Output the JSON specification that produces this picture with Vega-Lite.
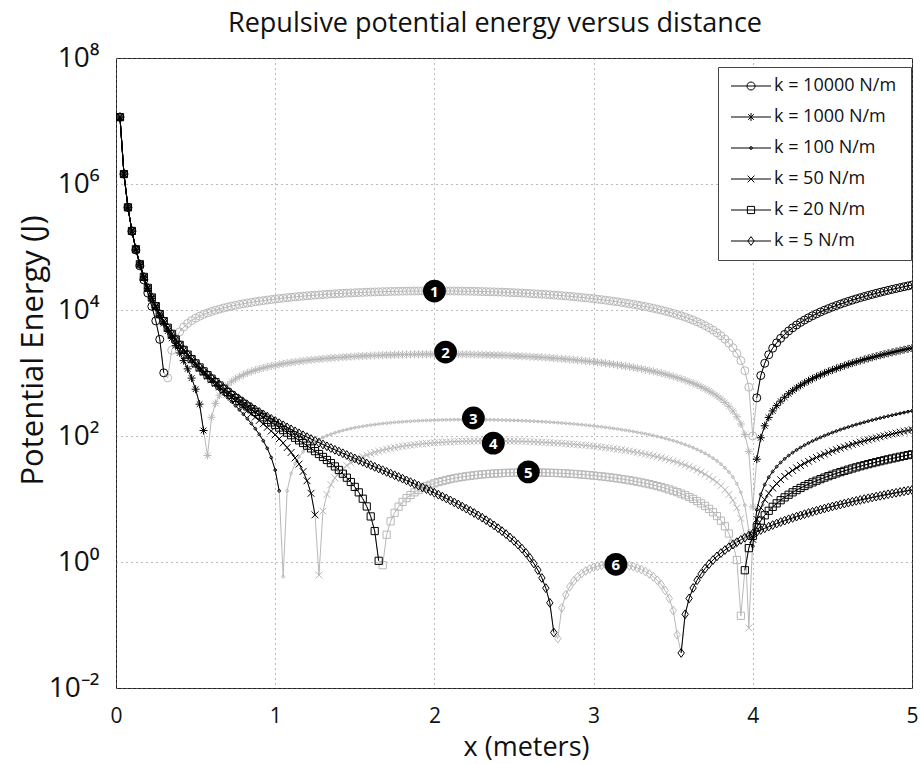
{
"$schema":"https://vega.github.io/schema/vega-lite/v6.json",
"width":796,"height":630,
"autosize":{"type":"none"},
"padding":{"left":116,"top":58,"right":10,"bottom":76},
"config":{"font":"Open Sans","view":{"stroke":"#222","strokeWidth":1}},
"title":{"text":"Repulsive potential energy versus distance","fontSize":27,"fontWeight":"normal","color":"#111","anchor":"middle","frame":"group","dx":-19,"dy":30,"offset":15,"baseline":"alphabetic"},
"data":{"values":[
{"k":10000,"x":0.025,"y":11506000,"p":"L"},{"k":10000,"x":0.05,"y":1437300,"p":"L"},{"k":10000,"x":0.075,"y":424620,"p":"L"},{"k":10000,"x":0.1,"y":177750,"p":"L"},{"k":10000,"x":0.125,"y":89533,"p":"L"},{"k":10000,"x":0.15,"y":50283,"p":"L"},{"k":10000,"x":0.175,"y":30100,"p":"L"},{"k":10000,"x":0.2,"y":18572,"p":"L"},{"k":10000,"x":0.225,"y":11435,"p":"L"},{"k":10000,"x":0.25,"y":6717,"p":"L"},{"k":10000,"x":0.275,"y":3421,"p":"L"},{"k":10000,"x":0.3,"y":1006,"p":"L"},
{"k":10000,"x":0.325,"y":837,"p":"H"},{"k":10000,"x":0.35,"y":2297,"p":"H"},{"k":10000,"x":0.375,"y":3490,"p":"H"},{"k":10000,"x":0.4,"y":4494,"p":"H"},{"k":10000,"x":0.425,"y":5358,"p":"H"},{"k":10000,"x":0.45,"y":6117,"p":"H"},{"k":10000,"x":0.475,"y":6797,"p":"H"},{"k":10000,"x":0.5,"y":7415,"p":"H"},{"k":10000,"x":0.525,"y":7982,"p":"H"},{"k":10000,"x":0.55,"y":8510,"p":"H"},{"k":10000,"x":0.575,"y":9004,"p":"H"},{"k":10000,"x":0.6,"y":9471,"p":"H"},{"k":10000,"x":0.625,"y":9913,"p":"H"},{"k":10000,"x":0.65,"y":10336,"p":"H"},{"k":10000,"x":0.675,"y":10740,"p":"H"},{"k":10000,"x":0.7,"y":11129,"p":"H"},{"k":10000,"x":0.725,"y":11503,"p":"H"},{"k":10000,"x":0.75,"y":11864,"p":"H"},{"k":10000,"x":0.775,"y":12214,"p":"H"},{"k":10000,"x":0.8,"y":12552,"p":"H"},{"k":10000,"x":0.825,"y":12880,"p":"H"},{"k":10000,"x":0.85,"y":13198,"p":"H"},{"k":10000,"x":0.875,"y":13507,"p":"H"},{"k":10000,"x":0.9,"y":13806,"p":"H"},{"k":10000,"x":0.925,"y":14098,"p":"H"},{"k":10000,"x":0.95,"y":14381,"p":"H"},{"k":10000,"x":0.975,"y":14656,"p":"H"},{"k":10000,"x":1,"y":14923,"p":"H"},{"k":10000,"x":1.025,"y":15183,"p":"H"},{"k":10000,"x":1.05,"y":15435,"p":"H"},{"k":10000,"x":1.075,"y":15680,"p":"H"},{"k":10000,"x":1.1,"y":15918,"p":"H"},{"k":10000,"x":1.125,"y":16149,"p":"H"},{"k":10000,"x":1.15,"y":16372,"p":"H"},{"k":10000,"x":1.175,"y":16589,"p":"H"},{"k":10000,"x":1.2,"y":16799,"p":"H"},{"k":10000,"x":1.225,"y":17002,"p":"H"},{"k":10000,"x":1.25,"y":17198,"p":"H"},{"k":10000,"x":1.275,"y":17388,"p":"H"},{"k":10000,"x":1.3,"y":17571,"p":"H"},{"k":10000,"x":1.325,"y":17748,"p":"H"},{"k":10000,"x":1.35,"y":17917,"p":"H"},{"k":10000,"x":1.375,"y":18081,"p":"H"},{"k":10000,"x":1.4,"y":18237,"p":"H"},{"k":10000,"x":1.425,"y":18388,"p":"H"},{"k":10000,"x":1.45,"y":18532,"p":"H"},{"k":10000,"x":1.475,"y":18669,"p":"H"},{"k":10000,"x":1.5,"y":18800,"p":"H"},{"k":10000,"x":1.525,"y":18924,"p":"H"},{"k":10000,"x":1.55,"y":19042,"p":"H"},{"k":10000,"x":1.575,"y":19154,"p":"H"},{"k":10000,"x":1.6,"y":19259,"p":"H"},{"k":10000,"x":1.625,"y":19358,"p":"H"},{"k":10000,"x":1.65,"y":19450,"p":"H"},{"k":10000,"x":1.675,"y":19537,"p":"H"},{"k":10000,"x":1.7,"y":19616,"p":"H"},{"k":10000,"x":1.725,"y":19690,"p":"H"},{"k":10000,"x":1.75,"y":19757,"p":"H"},{"k":10000,"x":1.775,"y":19818,"p":"H"},{"k":10000,"x":1.8,"y":19872,"p":"H"},{"k":10000,"x":1.825,"y":19920,"p":"H"},{"k":10000,"x":1.85,"y":19962,"p":"H"},{"k":10000,"x":1.875,"y":19998,"p":"H"},{"k":10000,"x":1.9,"y":20027,"p":"H"},{"k":10000,"x":1.925,"y":20050,"p":"H"},{"k":10000,"x":1.95,"y":20066,"p":"H"},{"k":10000,"x":1.975,"y":20077,"p":"H"},{"k":10000,"x":2,"y":20080,"p":"H"},
{"k":10000,"x":2.025,"y":20078,"p":"H"},{"k":10000,"x":2.05,"y":20070,"p":"H"},{"k":10000,"x":2.075,"y":20055,"p":"H"},{"k":10000,"x":2.1,"y":20034,"p":"H"},{"k":10000,"x":2.125,"y":20006,"p":"H"},{"k":10000,"x":2.15,"y":19972,"p":"H"},{"k":10000,"x":2.175,"y":19932,"p":"H"},{"k":10000,"x":2.2,"y":19886,"p":"H"},{"k":10000,"x":2.225,"y":19834,"p":"H"},{"k":10000,"x":2.25,"y":19775,"p":"H"},{"k":10000,"x":2.275,"y":19710,"p":"H"},{"k":10000,"x":2.3,"y":19638,"p":"H"},{"k":10000,"x":2.325,"y":19561,"p":"H"},{"k":10000,"x":2.35,"y":19477,"p":"H"},{"k":10000,"x":2.375,"y":19387,"p":"H"},{"k":10000,"x":2.4,"y":19290,"p":"H"},{"k":10000,"x":2.425,"y":19187,"p":"H"},{"k":10000,"x":2.45,"y":19078,"p":"H"},{"k":10000,"x":2.475,"y":18963,"p":"H"},{"k":10000,"x":2.5,"y":18841,"p":"H"},{"k":10000,"x":2.525,"y":18714,"p":"H"},{"k":10000,"x":2.55,"y":18580,"p":"H"},{"k":10000,"x":2.575,"y":18439,"p":"H"},{"k":10000,"x":2.6,"y":18293,"p":"H"},{"k":10000,"x":2.625,"y":18140,"p":"H"},{"k":10000,"x":2.65,"y":17981,"p":"H"},{"k":10000,"x":2.675,"y":17816,"p":"H"},{"k":10000,"x":2.7,"y":17644,"p":"H"},{"k":10000,"x":2.725,"y":17466,"p":"H"},{"k":10000,"x":2.75,"y":17282,"p":"H"},{"k":10000,"x":2.775,"y":17092,"p":"H"},{"k":10000,"x":2.8,"y":16895,"p":"H"},{"k":10000,"x":2.825,"y":16692,"p":"H"},{"k":10000,"x":2.85,"y":16483,"p":"H"},{"k":10000,"x":2.875,"y":16267,"p":"H"},{"k":10000,"x":2.9,"y":16046,"p":"H"},{"k":10000,"x":2.925,"y":15818,"p":"H"},{"k":10000,"x":2.95,"y":15584,"p":"H"},{"k":10000,"x":2.975,"y":15343,"p":"H"},{"k":10000,"x":3,"y":15096,"p":"H"},{"k":10000,"x":3.025,"y":14844,"p":"H"},{"k":10000,"x":3.05,"y":14584,"p":"H"},{"k":10000,"x":3.075,"y":14319,"p":"H"},{"k":10000,"x":3.1,"y":14047,"p":"H"},{"k":10000,"x":3.125,"y":13769,"p":"H"},{"k":10000,"x":3.15,"y":13485,"p":"H"},{"k":10000,"x":3.175,"y":13194,"p":"H"},{"k":10000,"x":3.2,"y":12898,"p":"H"},{"k":10000,"x":3.225,"y":12595,"p":"H"},{"k":10000,"x":3.25,"y":12285,"p":"H"},{"k":10000,"x":3.275,"y":11970,"p":"H"},{"k":10000,"x":3.3,"y":11648,"p":"H"},{"k":10000,"x":3.325,"y":11320,"p":"H"},{"k":10000,"x":3.35,"y":10986,"p":"H"},{"k":10000,"x":3.375,"y":10645,"p":"H"},{"k":10000,"x":3.4,"y":10298,"p":"H"},{"k":10000,"x":3.425,"y":9945,"p":"H"},{"k":10000,"x":3.45,"y":9586,"p":"H"},{"k":10000,"x":3.475,"y":9221,"p":"H"},{"k":10000,"x":3.5,"y":8849,"p":"H"},{"k":10000,"x":3.525,"y":8471,"p":"H"},{"k":10000,"x":3.55,"y":8086,"p":"H"},{"k":10000,"x":3.575,"y":7696,"p":"H"},{"k":10000,"x":3.6,"y":7299,"p":"H"},{"k":10000,"x":3.625,"y":6896,"p":"H"},{"k":10000,"x":3.65,"y":6487,"p":"H"},{"k":10000,"x":3.675,"y":6071,"p":"H"},{"k":10000,"x":3.7,"y":5649,"p":"H"},{"k":10000,"x":3.725,"y":5221,"p":"H"},{"k":10000,"x":3.75,"y":4787,"p":"H"},{"k":10000,"x":3.775,"y":4347,"p":"H"},{"k":10000,"x":3.8,"y":3900,"p":"H"},{"k":10000,"x":3.825,"y":3447,"p":"H"},{"k":10000,"x":3.85,"y":2987,"p":"H"},{"k":10000,"x":3.875,"y":2522,"p":"H"},{"k":10000,"x":3.9,"y":2050,"p":"H"},{"k":10000,"x":3.925,"y":1572,"p":"H"},{"k":10000,"x":3.95,"y":1088,"p":"H"},{"k":10000,"x":3.975,"y":597,"p":"H"},{"k":10000,"x":4,"y":100,"p":"H"},
{"k":10000,"x":4.025,"y":403,"p":"R"},{"k":10000,"x":4.05,"y":912,"p":"R"},{"k":10000,"x":4.075,"y":1428,"p":"R"},{"k":10000,"x":4.1,"y":1950,"p":"R"},{"k":10000,"x":4.125,"y":2478,"p":"R"},{"k":10000,"x":4.15,"y":3012,"p":"R"},{"k":10000,"x":4.175,"y":3553,"p":"R"},{"k":10000,"x":4.2,"y":4099,"p":"R"},{"k":10000,"x":4.225,"y":4652,"p":"R"},{"k":10000,"x":4.25,"y":5212,"p":"R"},{"k":10000,"x":4.275,"y":5777,"p":"R"},{"k":10000,"x":4.3,"y":6349,"p":"R"},{"k":10000,"x":4.325,"y":6927,"p":"R"},{"k":10000,"x":4.35,"y":7512,"p":"R"},{"k":10000,"x":4.375,"y":8102,"p":"R"},{"k":10000,"x":4.4,"y":8699,"p":"R"},{"k":10000,"x":4.425,"y":9302,"p":"R"},{"k":10000,"x":4.45,"y":9912,"p":"R"},{"k":10000,"x":4.475,"y":10527,"p":"R"},{"k":10000,"x":4.5,"y":11149,"p":"R"},{"k":10000,"x":4.525,"y":11777,"p":"R"},{"k":10000,"x":4.55,"y":12411,"p":"R"},{"k":10000,"x":4.575,"y":13052,"p":"R"},{"k":10000,"x":4.6,"y":13699,"p":"R"},{"k":10000,"x":4.625,"y":14352,"p":"R"},{"k":10000,"x":4.65,"y":15011,"p":"R"},{"k":10000,"x":4.675,"y":15677,"p":"R"},{"k":10000,"x":4.7,"y":16349,"p":"R"},{"k":10000,"x":4.725,"y":17027,"p":"R"},{"k":10000,"x":4.75,"y":17711,"p":"R"},{"k":10000,"x":4.775,"y":18402,"p":"R"},{"k":10000,"x":4.8,"y":19099,"p":"R"},{"k":10000,"x":4.825,"y":19802,"p":"R"},{"k":10000,"x":4.85,"y":20511,"p":"R"},{"k":10000,"x":4.875,"y":21227,"p":"R"},{"k":10000,"x":4.9,"y":21949,"p":"R"},{"k":10000,"x":4.925,"y":22677,"p":"R"},{"k":10000,"x":4.95,"y":23411,"p":"R"},{"k":10000,"x":4.975,"y":24152,"p":"R"},{"k":10000,"x":5,"y":24898,"p":"R"},
{"k":1000,"x":0.025,"y":11507000,"p":"L"},{"k":1000,"x":0.05,"y":1438300,"p":"L"},{"k":1000,"x":0.075,"y":426040,"p":"L"},{"k":1000,"x":0.1,"y":179600,"p":"L"},{"k":1000,"x":0.125,"y":91806,"p":"L"},{"k":1000,"x":0.15,"y":52975,"p":"L"},{"k":1000,"x":0.175,"y":33205,"p":"L"},{"k":1000,"x":0.2,"y":22085,"p":"L"},{"k":1000,"x":0.225,"y":15350,"p":"L"},{"k":1000,"x":0.25,"y":11028,"p":"L"},{"k":1000,"x":0.275,"y":8123,"p":"L"},{"k":1000,"x":0.3,"y":6094,"p":"L"},{"k":1000,"x":0.325,"y":4630,"p":"L"},{"k":1000,"x":0.35,"y":3545,"p":"L"},{"k":1000,"x":0.375,"y":2720,"p":"L"},{"k":1000,"x":0.4,"y":2079,"p":"L"},{"k":1000,"x":0.425,"y":1572,"p":"L"},{"k":1000,"x":0.45,"y":1164,"p":"L"},{"k":1000,"x":0.475,"y":830,"p":"L"},{"k":1000,"x":0.5,"y":553,"p":"L"},{"k":1000,"x":0.525,"y":320,"p":"L"},{"k":1000,"x":0.55,"y":122,"p":"L"},
{"k":1000,"x":0.575,"y":49,"p":"H"},{"k":1000,"x":0.6,"y":198,"p":"H"},{"k":1000,"x":0.625,"y":329,"p":"H"},{"k":1000,"x":0.65,"y":444,"p":"H"},{"k":1000,"x":0.675,"y":548,"p":"H"},{"k":1000,"x":0.7,"y":641,"p":"H"},{"k":1000,"x":0.725,"y":726,"p":"H"},{"k":1000,"x":0.75,"y":803,"p":"H"},{"k":1000,"x":0.775,"y":874,"p":"H"},{"k":1000,"x":0.8,"y":939,"p":"H"},{"k":1000,"x":0.825,"y":1000,"p":"H"},{"k":1000,"x":0.85,"y":1056,"p":"H"},{"k":1000,"x":0.875,"y":1109,"p":"H"},{"k":1000,"x":0.9,"y":1159,"p":"H"},{"k":1000,"x":0.925,"y":1205,"p":"H"},{"k":1000,"x":0.95,"y":1249,"p":"H"},{"k":1000,"x":0.975,"y":1291,"p":"H"},{"k":1000,"x":1,"y":1331,"p":"H"},{"k":1000,"x":1.025,"y":1368,"p":"H"},{"k":1000,"x":1.05,"y":1404,"p":"H"},{"k":1000,"x":1.075,"y":1438,"p":"H"},{"k":1000,"x":1.1,"y":1470,"p":"H"},{"k":1000,"x":1.125,"y":1501,"p":"H"},{"k":1000,"x":1.15,"y":1531,"p":"H"},{"k":1000,"x":1.175,"y":1559,"p":"H"},{"k":1000,"x":1.2,"y":1586,"p":"H"},{"k":1000,"x":1.225,"y":1612,"p":"H"},{"k":1000,"x":1.25,"y":1637,"p":"H"},{"k":1000,"x":1.275,"y":1661,"p":"H"},{"k":1000,"x":1.3,"y":1683,"p":"H"},{"k":1000,"x":1.325,"y":1705,"p":"H"},{"k":1000,"x":1.35,"y":1726,"p":"H"},{"k":1000,"x":1.375,"y":1746,"p":"H"},{"k":1000,"x":1.4,"y":1765,"p":"H"},{"k":1000,"x":1.425,"y":1783,"p":"H"},{"k":1000,"x":1.45,"y":1800,"p":"H"},{"k":1000,"x":1.475,"y":1816,"p":"H"},{"k":1000,"x":1.5,"y":1832,"p":"H"},{"k":1000,"x":1.525,"y":1847,"p":"H"},{"k":1000,"x":1.55,"y":1861,"p":"H"},{"k":1000,"x":1.575,"y":1874,"p":"H"},{"k":1000,"x":1.6,"y":1886,"p":"H"},{"k":1000,"x":1.625,"y":1898,"p":"H"},{"k":1000,"x":1.65,"y":1909,"p":"H"},{"k":1000,"x":1.675,"y":1919,"p":"H"},{"k":1000,"x":1.7,"y":1929,"p":"H"},{"k":1000,"x":1.725,"y":1937,"p":"H"},{"k":1000,"x":1.75,"y":1945,"p":"H"},{"k":1000,"x":1.775,"y":1953,"p":"H"},{"k":1000,"x":1.8,"y":1959,"p":"H"},{"k":1000,"x":1.825,"y":1965,"p":"H"},{"k":1000,"x":1.85,"y":1971,"p":"H"},{"k":1000,"x":1.875,"y":1975,"p":"H"},{"k":1000,"x":1.9,"y":1979,"p":"H"},{"k":1000,"x":1.925,"y":1982,"p":"H"},{"k":1000,"x":1.95,"y":1985,"p":"H"},{"k":1000,"x":1.975,"y":1987,"p":"H"},{"k":1000,"x":2,"y":1988,"p":"H"},{"k":1000,"x":2.025,"y":1988,"p":"H"},{"k":1000,"x":2.05,"y":1988,"p":"H"},{"k":1000,"x":2.075,"y":1987,"p":"H"},{"k":1000,"x":2.1,"y":1986,"p":"H"},{"k":1000,"x":2.125,"y":1984,"p":"H"},{"k":1000,"x":2.15,"y":1981,"p":"H"},{"k":1000,"x":2.175,"y":1978,"p":"H"},{"k":1000,"x":2.2,"y":1973,"p":"H"},{"k":1000,"x":2.225,"y":1969,"p":"H"},{"k":1000,"x":2.25,"y":1963,"p":"H"},{"k":1000,"x":2.275,"y":1957,"p":"H"},{"k":1000,"x":2.3,"y":1950,"p":"H"},{"k":1000,"x":2.325,"y":1943,"p":"H"},{"k":1000,"x":2.35,"y":1935,"p":"H"},{"k":1000,"x":2.375,"y":1927,"p":"H"},{"k":1000,"x":2.4,"y":1917,"p":"H"},{"k":1000,"x":2.425,"y":1907,"p":"H"},{"k":1000,"x":2.45,"y":1897,"p":"H"},{"k":1000,"x":2.475,"y":1886,"p":"H"},{"k":1000,"x":2.5,"y":1874,"p":"H"},{"k":1000,"x":2.525,"y":1861,"p":"H"},{"k":1000,"x":2.55,"y":1848,"p":"H"},{"k":1000,"x":2.575,"y":1834,"p":"H"},{"k":1000,"x":2.6,"y":1820,"p":"H"},{"k":1000,"x":2.625,"y":1805,"p":"H"},{"k":1000,"x":2.65,"y":1789,"p":"H"},{"k":1000,"x":2.675,"y":1773,"p":"H"},{"k":1000,"x":2.7,"y":1756,"p":"H"},{"k":1000,"x":2.725,"y":1739,"p":"H"},{"k":1000,"x":2.75,"y":1720,"p":"H"},{"k":1000,"x":2.775,"y":1702,"p":"H"},{"k":1000,"x":2.8,"y":1682,"p":"H"},{"k":1000,"x":2.825,"y":1662,"p":"H"},{"k":1000,"x":2.85,"y":1641,"p":"H"},{"k":1000,"x":2.875,"y":1620,"p":"H"},{"k":1000,"x":2.9,"y":1598,"p":"H"},{"k":1000,"x":2.925,"y":1575,"p":"H"},{"k":1000,"x":2.95,"y":1552,"p":"H"},{"k":1000,"x":2.975,"y":1528,"p":"H"},{"k":1000,"x":3,"y":1504,"p":"H"},{"k":1000,"x":3.025,"y":1479,"p":"H"},{"k":1000,"x":3.05,"y":1453,"p":"H"},{"k":1000,"x":3.075,"y":1426,"p":"H"},{"k":1000,"x":3.1,"y":1399,"p":"H"},{"k":1000,"x":3.125,"y":1372,"p":"H"},{"k":1000,"x":3.15,"y":1343,"p":"H"},{"k":1000,"x":3.175,"y":1314,"p":"H"},{"k":1000,"x":3.2,"y":1285,"p":"H"},{"k":1000,"x":3.225,"y":1255,"p":"H"},{"k":1000,"x":3.25,"y":1224,"p":"H"},{"k":1000,"x":3.275,"y":1192,"p":"H"},{"k":1000,"x":3.3,"y":1160,"p":"H"},{"k":1000,"x":3.325,"y":1128,"p":"H"},{"k":1000,"x":3.35,"y":1094,"p":"H"},{"k":1000,"x":3.375,"y":1060,"p":"H"},{"k":1000,"x":3.4,"y":1026,"p":"H"},{"k":1000,"x":3.425,"y":991,"p":"H"},{"k":1000,"x":3.45,"y":955,"p":"H"},{"k":1000,"x":3.475,"y":918,"p":"H"},{"k":1000,"x":3.5,"y":881,"p":"H"},{"k":1000,"x":3.525,"y":843,"p":"H"},{"k":1000,"x":3.55,"y":805,"p":"H"},{"k":1000,"x":3.575,"y":766,"p":"H"},{"k":1000,"x":3.6,"y":726,"p":"H"},{"k":1000,"x":3.625,"y":686,"p":"H"},{"k":1000,"x":3.65,"y":645,"p":"H"},{"k":1000,"x":3.675,"y":604,"p":"H"},{"k":1000,"x":3.7,"y":562,"p":"H"},{"k":1000,"x":3.725,"y":519,"p":"H"},{"k":1000,"x":3.75,"y":476,"p":"H"},{"k":1000,"x":3.775,"y":432,"p":"H"},{"k":1000,"x":3.8,"y":387,"p":"H"},{"k":1000,"x":3.825,"y":342,"p":"H"},{"k":1000,"x":3.85,"y":296,"p":"H"},{"k":1000,"x":3.875,"y":249,"p":"H"},{"k":1000,"x":3.9,"y":202,"p":"H"},{"k":1000,"x":3.925,"y":155,"p":"H"},{"k":1000,"x":3.95,"y":106,"p":"H"},{"k":1000,"x":3.975,"y":57,"p":"H"},{"k":1000,"x":4,"y":7.5,"p":"H"},
{"k":1000,"x":4.025,"y":42.8,"p":"R"},{"k":1000,"x":4.05,"y":93.7,"p":"R"},{"k":1000,"x":4.075,"y":145.2,"p":"R"},{"k":1000,"x":4.1,"y":197.3,"p":"R"},{"k":1000,"x":4.125,"y":250.1,"p":"R"},{"k":1000,"x":4.15,"y":303.5,"p":"R"},{"k":1000,"x":4.175,"y":357.5,"p":"R"},{"k":1000,"x":4.2,"y":412.1,"p":"R"},{"k":1000,"x":4.225,"y":467.4,"p":"R"},{"k":1000,"x":4.25,"y":523.3,"p":"R"},{"k":1000,"x":4.275,"y":579.8,"p":"R"},{"k":1000,"x":4.3,"y":637,"p":"R"},{"k":1000,"x":4.325,"y":694.7,"p":"R"},{"k":1000,"x":4.35,"y":753.2,"p":"R"},{"k":1000,"x":4.375,"y":812.1,"p":"R"},{"k":1000,"x":4.4,"y":871.8,"p":"R"},{"k":1000,"x":4.425,"y":932.1,"p":"R"},{"k":1000,"x":4.45,"y":993,"p":"R"},{"k":1000,"x":4.475,"y":1054.5,"p":"R"},{"k":1000,"x":4.5,"y":1116.7,"p":"R"},{"k":1000,"x":4.525,"y":1179.4,"p":"R"},{"k":1000,"x":4.55,"y":1242.9,"p":"R"},{"k":1000,"x":4.575,"y":1306.9,"p":"R"},{"k":1000,"x":4.6,"y":1371.5,"p":"R"},{"k":1000,"x":4.625,"y":1436.8,"p":"R"},{"k":1000,"x":4.65,"y":1502.8,"p":"R"},{"k":1000,"x":4.675,"y":1569.3,"p":"R"},{"k":1000,"x":4.7,"y":1636.4,"p":"R"},{"k":1000,"x":4.725,"y":1704.2,"p":"R"},{"k":1000,"x":4.75,"y":1772.7,"p":"R"},{"k":1000,"x":4.775,"y":1841.7,"p":"R"},{"k":1000,"x":4.8,"y":1911.3,"p":"R"},{"k":1000,"x":4.825,"y":1981.6,"p":"R"},{"k":1000,"x":4.85,"y":2052.6,"p":"R"},{"k":1000,"x":4.875,"y":2124.1,"p":"R"},{"k":1000,"x":4.9,"y":2196.2,"p":"R"},{"k":1000,"x":4.925,"y":2269,"p":"R"},{"k":1000,"x":4.95,"y":2342.5,"p":"R"},{"k":1000,"x":4.975,"y":2416.5,"p":"R"},{"k":1000,"x":5,"y":2491,"p":"R"},
{"k":100,"x":0.025,"y":11507000,"p":"L"},{"k":100,"x":0.05,"y":1438400,"p":"L"},{"k":100,"x":0.075,"y":426180,"p":"L"},{"k":100,"x":0.1,"y":179780,"p":"L"},{"k":100,"x":0.125,"y":92033,"p":"L"},{"k":100,"x":0.15,"y":53244,"p":"L"},{"k":100,"x":0.175,"y":33515,"p":"L"},{"k":100,"x":0.2,"y":22436,"p":"L"},{"k":100,"x":0.225,"y":15741,"p":"L"},{"k":100,"x":0.25,"y":11459,"p":"L"},{"k":100,"x":0.275,"y":8593,"p":"L"},{"k":100,"x":0.3,"y":6603,"p":"L"},{"k":100,"x":0.325,"y":5177,"p":"L"},{"k":100,"x":0.35,"y":4129,"p":"L"},{"k":100,"x":0.375,"y":3341,"p":"L"},{"k":100,"x":0.4,"y":2736,"p":"L"},{"k":100,"x":0.425,"y":2265,"p":"L"},{"k":100,"x":0.45,"y":1892,"p":"L"},{"k":100,"x":0.475,"y":1593,"p":"L"},{"k":100,"x":0.5,"y":1350,"p":"L"},{"k":100,"x":0.525,"y":1150,"p":"L"},{"k":100,"x":0.55,"y":984.8,"p":"L"},{"k":100,"x":0.575,"y":846.3,"p":"L"},{"k":100,"x":0.6,"y":729.4,"p":"L"},{"k":100,"x":0.625,"y":630,"p":"L"},{"k":100,"x":0.65,"y":544.8,"p":"L"},{"k":100,"x":0.675,"y":471.4,"p":"L"},{"k":100,"x":0.7,"y":407.7,"p":"L"},{"k":100,"x":0.725,"y":352.1,"p":"L"},{"k":100,"x":0.75,"y":303.3,"p":"L"},{"k":100,"x":0.775,"y":260.3,"p":"L"},{"k":100,"x":0.8,"y":222.2,"p":"L"},{"k":100,"x":0.825,"y":188.2,"p":"L"},{"k":100,"x":0.85,"y":157.9,"p":"L"},{"k":100,"x":0.875,"y":130.7,"p":"L"},{"k":100,"x":0.9,"y":106.1,"p":"L"},{"k":100,"x":0.925,"y":84,"p":"L"},{"k":100,"x":0.95,"y":63.8,"p":"L"},{"k":100,"x":0.975,"y":45.5,"p":"L"},{"k":100,"x":1,"y":28.77,"p":"L"},{"k":100,"x":1.025,"y":13.46,"p":"L"},
{"k":100,"x":1.05,"y":0.585,"p":"H"},{"k":100,"x":1.075,"y":13.52,"p":"H"},{"k":100,"x":1.1,"y":25.44,"p":"H"},{"k":100,"x":1.125,"y":36.47,"p":"H"},{"k":100,"x":1.15,"y":46.69,"p":"H"},{"k":100,"x":1.175,"y":56.17,"p":"H"},{"k":100,"x":1.2,"y":64.98,"p":"H"},{"k":100,"x":1.225,"y":73.19,"p":"H"},{"k":100,"x":1.25,"y":80.85,"p":"H"},{"k":100,"x":1.275,"y":88,"p":"H"},{"k":100,"x":1.3,"y":94.69,"p":"H"},{"k":100,"x":1.325,"y":100.96,"p":"H"},{"k":100,"x":1.35,"y":106.8,"p":"H"},{"k":100,"x":1.375,"y":112.3,"p":"H"},{"k":100,"x":1.4,"y":117.5,"p":"H"},{"k":100,"x":1.425,"y":122.4,"p":"H"},{"k":100,"x":1.45,"y":126.9,"p":"H"},{"k":100,"x":1.475,"y":131.2,"p":"H"},{"k":100,"x":1.5,"y":135.3,"p":"H"},{"k":100,"x":1.525,"y":139,"p":"H"},{"k":100,"x":1.55,"y":142.6,"p":"H"},{"k":100,"x":1.575,"y":146,"p":"H"},{"k":100,"x":1.6,"y":149.1,"p":"H"},{"k":100,"x":1.625,"y":152.1,"p":"H"},{"k":100,"x":1.65,"y":154.9,"p":"H"},{"k":100,"x":1.675,"y":157.5,"p":"H"},{"k":100,"x":1.7,"y":159.9,"p":"H"},{"k":100,"x":1.725,"y":162.2,"p":"H"},{"k":100,"x":1.75,"y":164.4,"p":"H"},{"k":100,"x":1.775,"y":166.4,"p":"H"},{"k":100,"x":1.8,"y":168.2,"p":"H"},{"k":100,"x":1.825,"y":169.9,"p":"H"},{"k":100,"x":1.85,"y":171.5,"p":"H"},{"k":100,"x":1.875,"y":173,"p":"H"},{"k":100,"x":1.9,"y":174.3,"p":"H"},{"k":100,"x":1.925,"y":175.5,"p":"H"},{"k":100,"x":1.95,"y":176.7,"p":"H"},{"k":100,"x":1.975,"y":177.7,"p":"H"},{"k":100,"x":2,"y":178.6,"p":"H"},{"k":100,"x":2.025,"y":179.3,"p":"H"},{"k":100,"x":2.05,"y":180,"p":"H"},{"k":100,"x":2.075,"y":180.6,"p":"H"},{"k":100,"x":2.1,"y":181.1,"p":"H"},{"k":100,"x":2.125,"y":181.5,"p":"H"},{"k":100,"x":2.15,"y":181.8,"p":"H"},{"k":100,"x":2.175,"y":182,"p":"H"},{"k":100,"x":2.2,"y":182.15,"p":"H"},{"k":100,"x":2.225,"y":182.2,"p":"H"},{"k":100,"x":2.25,"y":182.1,"p":"H"},{"k":100,"x":2.275,"y":182,"p":"H"},{"k":100,"x":2.3,"y":181.8,"p":"H"},{"k":100,"x":2.325,"y":181.45,"p":"H"},{"k":100,"x":2.35,"y":181,"p":"H"},{"k":100,"x":2.375,"y":180.6,"p":"H"},{"k":100,"x":2.4,"y":180,"p":"H"},{"k":100,"x":2.425,"y":179.4,"p":"H"},{"k":100,"x":2.45,"y":178.7,"p":"H"},{"k":100,"x":2.475,"y":177.9,"p":"H"},{"k":100,"x":2.5,"y":177,"p":"H"},{"k":100,"x":2.525,"y":176.1,"p":"H"},{"k":100,"x":2.55,"y":175.05,"p":"H"},{"k":100,"x":2.575,"y":174,"p":"H"},{"k":100,"x":2.6,"y":172.8,"p":"H"},{"k":100,"x":2.625,"y":171.6,"p":"H"},{"k":100,"x":2.65,"y":170.2,"p":"H"},{"k":100,"x":2.675,"y":168.9,"p":"H"},{"k":100,"x":2.7,"y":167.4,"p":"H"},{"k":100,"x":2.725,"y":165.9,"p":"H"},{"k":100,"x":2.75,"y":164.25,"p":"H"},{"k":100,"x":2.775,"y":162.6,"p":"H"},{"k":100,"x":2.8,"y":160.8,"p":"H"},{"k":100,"x":2.825,"y":159,"p":"H"},{"k":100,"x":2.85,"y":157.1,"p":"H"},{"k":100,"x":2.875,"y":155.2,"p":"H"},{"k":100,"x":2.9,"y":153.2,"p":"H"},{"k":100,"x":2.925,"y":151.1,"p":"H"},{"k":100,"x":2.95,"y":148.9,"p":"H"},{"k":100,"x":2.975,"y":146.7,"p":"H"},{"k":100,"x":3,"y":144.4,"p":"H"},{"k":100,"x":3.025,"y":142,"p":"H"},{"k":100,"x":3.05,"y":139.6,"p":"H"},{"k":100,"x":3.075,"y":137.1,"p":"H"},{"k":100,"x":3.1,"y":134.5,"p":"H"},{"k":100,"x":3.125,"y":131.9,"p":"H"},{"k":100,"x":3.15,"y":129.15,"p":"H"},{"k":100,"x":3.175,"y":126.4,"p":"H"},{"k":100,"x":3.2,"y":123.5,"p":"H"},{"k":100,"x":3.225,"y":120.6,"p":"H"},{"k":100,"x":3.25,"y":117.7,"p":"H"},{"k":100,"x":3.275,"y":114.6,"p":"H"},{"k":100,"x":3.3,"y":111.5,"p":"H"},{"k":100,"x":3.325,"y":108.4,"p":"H"},{"k":100,"x":3.35,"y":105.1,"p":"H"},{"k":100,"x":3.375,"y":101.8,"p":"H"},{"k":100,"x":3.4,"y":98.45,"p":"H"},{"k":100,"x":3.425,"y":95,"p":"H"},{"k":100,"x":3.45,"y":91.5,"p":"H"},{"k":100,"x":3.475,"y":88,"p":"H"},{"k":100,"x":3.5,"y":84.3,"p":"H"},{"k":100,"x":3.525,"y":80.65,"p":"H"},{"k":100,"x":3.55,"y":76.9,"p":"H"},{"k":100,"x":3.575,"y":73.1,"p":"H"},{"k":100,"x":3.6,"y":69.2,"p":"H"},{"k":100,"x":3.625,"y":65.2,"p":"H"},{"k":100,"x":3.65,"y":61.2,"p":"H"},{"k":100,"x":3.675,"y":57.1,"p":"H"},{"k":100,"x":3.7,"y":53,"p":"H"},{"k":100,"x":3.725,"y":48.8,"p":"H"},{"k":100,"x":3.75,"y":44.5,"p":"H"},{"k":100,"x":3.775,"y":40.2,"p":"H"},{"k":100,"x":3.8,"y":35.75,"p":"H"},{"k":100,"x":3.825,"y":31.3,"p":"H"},{"k":100,"x":3.85,"y":26.75,"p":"H"},{"k":100,"x":3.875,"y":22.2,"p":"H"},{"k":100,"x":3.9,"y":17.5,"p":"H"},{"k":100,"x":3.925,"y":12.8,"p":"H"},{"k":100,"x":3.95,"y":7.99,"p":"H"},{"k":100,"x":3.975,"y":3.14,"p":"H"},
{"k":100,"x":4,"y":1.78,"p":"R"},{"k":100,"x":4.025,"y":6.76,"p":"R"},{"k":100,"x":4.05,"y":11.8,"p":"R"},{"k":100,"x":4.075,"y":16.9,"p":"R"},{"k":100,"x":4.1,"y":22.1,"p":"R"},{"k":100,"x":4.125,"y":27.3,"p":"R"},{"k":100,"x":4.15,"y":32.6,"p":"R"},{"k":100,"x":4.175,"y":38,"p":"R"},{"k":100,"x":4.2,"y":43.4,"p":"R"},{"k":100,"x":4.225,"y":48.9,"p":"R"},{"k":100,"x":4.25,"y":54.4,"p":"R"},{"k":100,"x":4.275,"y":60.05,"p":"R"},{"k":100,"x":4.3,"y":65.7,"p":"R"},{"k":100,"x":4.325,"y":71.5,"p":"R"},{"k":100,"x":4.35,"y":77.3,"p":"R"},{"k":100,"x":4.375,"y":83.15,"p":"R"},{"k":100,"x":4.4,"y":89.1,"p":"R"},{"k":100,"x":4.425,"y":95.1,"p":"R"},{"k":100,"x":4.45,"y":101.1,"p":"R"},{"k":100,"x":4.475,"y":107.25,"p":"R"},{"k":100,"x":4.5,"y":113.4,"p":"R"},{"k":100,"x":4.525,"y":119.7,"p":"R"},{"k":100,"x":4.55,"y":126,"p":"R"},{"k":100,"x":4.575,"y":132.4,"p":"R"},{"k":100,"x":4.6,"y":138.8,"p":"R"},{"k":100,"x":4.625,"y":145.3,"p":"R"},{"k":100,"x":4.65,"y":151.9,"p":"R"},{"k":100,"x":4.675,"y":158.5,"p":"R"},{"k":100,"x":4.7,"y":165.2,"p":"R"},{"k":100,"x":4.725,"y":172,"p":"R"},{"k":100,"x":4.75,"y":178.8,"p":"R"},{"k":100,"x":4.775,"y":185.65,"p":"R"},{"k":100,"x":4.8,"y":192.6,"p":"R"},{"k":100,"x":4.825,"y":199.6,"p":"R"},{"k":100,"x":4.85,"y":206.7,"p":"R"},{"k":100,"x":4.875,"y":213.8,"p":"R"},{"k":100,"x":4.9,"y":221,"p":"R"},{"k":100,"x":4.925,"y":228.3,"p":"R"},{"k":100,"x":4.95,"y":235.6,"p":"R"},{"k":100,"x":4.975,"y":243,"p":"R"},{"k":100,"x":5,"y":250.4,"p":"R"},
{"k":50,"x":0.025,"y":11507000,"p":"L"},{"k":50,"x":0.05,"y":1438400,"p":"L"},{"k":50,"x":0.075,"y":426185,"p":"L"},{"k":50,"x":0.1,"y":179790,"p":"L"},{"k":50,"x":0.125,"y":92045,"p":"L"},{"k":50,"x":0.15,"y":53259,"p":"L"},{"k":50,"x":0.175,"y":33533,"p":"L"},{"k":50,"x":0.2,"y":22455,"p":"L"},{"k":50,"x":0.225,"y":15763,"p":"L"},{"k":50,"x":0.25,"y":11483,"p":"L"},{"k":50,"x":0.275,"y":8619,"p":"L"},{"k":50,"x":0.3,"y":6631,"p":"L"},{"k":50,"x":0.325,"y":5207,"p":"L"},{"k":50,"x":0.35,"y":4161,"p":"L"},{"k":50,"x":0.375,"y":3375,"p":"L"},{"k":50,"x":0.4,"y":2773,"p":"L"},{"k":50,"x":0.425,"y":2304,"p":"L"},{"k":50,"x":0.45,"y":1933,"p":"L"},{"k":50,"x":0.475,"y":1635,"p":"L"},{"k":50,"x":0.5,"y":1394,"p":"L"},{"k":50,"x":0.525,"y":1196,"p":"L"},{"k":50,"x":0.55,"y":1032.7,"p":"L"},{"k":50,"x":0.575,"y":896,"p":"L"},{"k":50,"x":0.6,"y":780.9,"p":"L"},{"k":50,"x":0.625,"y":683.2,"p":"L"},{"k":50,"x":0.65,"y":599.7,"p":"L"},{"k":50,"x":0.675,"y":528,"p":"L"},{"k":50,"x":0.7,"y":465.9,"p":"L"},{"k":50,"x":0.725,"y":411.9,"p":"L"},{"k":50,"x":0.75,"y":364.7,"p":"L"},{"k":50,"x":0.775,"y":323.3,"p":"L"},{"k":50,"x":0.8,"y":286.7,"p":"L"},{"k":50,"x":0.825,"y":254.2,"p":"L"},{"k":50,"x":0.85,"y":225.3,"p":"L"},{"k":50,"x":0.875,"y":199.5,"p":"L"},{"k":50,"x":0.9,"y":176.4,"p":"L"},{"k":50,"x":0.925,"y":155.6,"p":"L"},{"k":50,"x":0.95,"y":136.8,"p":"L"},{"k":50,"x":0.975,"y":119.7,"p":"L"},{"k":50,"x":1,"y":104.3,"p":"L"},{"k":50,"x":1.025,"y":90.2,"p":"L"},{"k":50,"x":1.05,"y":77.4,"p":"L"},{"k":50,"x":1.075,"y":65.6,"p":"L"},{"k":50,"x":1.1,"y":54.8,"p":"L"},{"k":50,"x":1.125,"y":44.9,"p":"L"},{"k":50,"x":1.15,"y":35.8,"p":"L"},{"k":50,"x":1.175,"y":27.3,"p":"L"},{"k":50,"x":1.2,"y":19.5,"p":"L"},{"k":50,"x":1.225,"y":12.3,"p":"L"},{"k":50,"x":1.25,"y":5.6,"p":"L"},
{"k":50,"x":1.275,"y":0.62,"p":"H"},{"k":50,"x":1.3,"y":6.43,"p":"H"},{"k":50,"x":1.325,"y":11.8,"p":"H"},{"k":50,"x":1.35,"y":16.9,"p":"H"},{"k":50,"x":1.375,"y":21.6,"p":"H"},{"k":50,"x":1.4,"y":26,"p":"H"},{"k":50,"x":1.425,"y":30.1,"p":"H"},{"k":50,"x":1.45,"y":34,"p":"H"},{"k":50,"x":1.475,"y":37.6,"p":"H"},{"k":50,"x":1.5,"y":41,"p":"H"},{"k":50,"x":1.525,"y":44.2,"p":"H"},{"k":50,"x":1.55,"y":47.2,"p":"H"},{"k":50,"x":1.575,"y":50,"p":"H"},{"k":50,"x":1.6,"y":52.6,"p":"H"},{"k":50,"x":1.625,"y":55.1,"p":"H"},{"k":50,"x":1.65,"y":57.4,"p":"H"},{"k":50,"x":1.675,"y":59.6,"p":"H"},{"k":50,"x":1.7,"y":61.7,"p":"H"},{"k":50,"x":1.725,"y":63.6,"p":"H"},{"k":50,"x":1.75,"y":65.4,"p":"H"},{"k":50,"x":1.775,"y":67.1,"p":"H"},{"k":50,"x":1.8,"y":68.7,"p":"H"},{"k":50,"x":1.825,"y":70.2,"p":"H"},{"k":50,"x":1.85,"y":71.55,"p":"H"},{"k":50,"x":1.875,"y":72.8,"p":"H"},{"k":50,"x":1.9,"y":74.1,"p":"H"},{"k":50,"x":1.925,"y":75.2,"p":"H"},{"k":50,"x":1.95,"y":76.2,"p":"H"},{"k":50,"x":1.975,"y":77.2,"p":"H"},{"k":50,"x":2,"y":78,"p":"H"},{"k":50,"x":2.025,"y":78.8,"p":"H"},{"k":50,"x":2.05,"y":79.6,"p":"H"},{"k":50,"x":2.075,"y":80.2,"p":"H"},{"k":50,"x":2.1,"y":80.85,"p":"H"},{"k":50,"x":2.125,"y":81.4,"p":"H"},{"k":50,"x":2.15,"y":81.9,"p":"H"},{"k":50,"x":2.175,"y":82.3,"p":"H"},{"k":50,"x":2.2,"y":82.6,"p":"H"},{"k":50,"x":2.225,"y":82.9,"p":"H"},{"k":50,"x":2.25,"y":83.2,"p":"H"},{"k":50,"x":2.275,"y":83.35,"p":"H"},{"k":50,"x":2.3,"y":83.5,"p":"H"},{"k":50,"x":2.325,"y":83.6,"p":"H"},{"k":50,"x":2.35,"y":83.6,"p":"H"},{"k":50,"x":2.375,"y":83.6,"p":"H"},{"k":50,"x":2.4,"y":83.5,"p":"H"},{"k":50,"x":2.425,"y":83.4,"p":"H"},{"k":50,"x":2.45,"y":83.2,"p":"H"},{"k":50,"x":2.475,"y":83,"p":"H"},{"k":50,"x":2.5,"y":82.8,"p":"H"},{"k":50,"x":2.525,"y":82.45,"p":"H"},{"k":50,"x":2.55,"y":82.1,"p":"H"},{"k":50,"x":2.575,"y":81.7,"p":"H"},{"k":50,"x":2.6,"y":81.3,"p":"H"},{"k":50,"x":2.625,"y":80.8,"p":"H"},{"k":50,"x":2.65,"y":80.3,"p":"H"},{"k":50,"x":2.675,"y":79.7,"p":"H"},{"k":50,"x":2.7,"y":79.1,"p":"H"},{"k":50,"x":2.725,"y":78.5,"p":"H"},{"k":50,"x":2.75,"y":77.8,"p":"H"},{"k":50,"x":2.775,"y":77.1,"p":"H"},{"k":50,"x":2.8,"y":76.3,"p":"H"},{"k":50,"x":2.825,"y":75.5,"p":"H"},{"k":50,"x":2.85,"y":74.7,"p":"H"},{"k":50,"x":2.875,"y":73.8,"p":"H"},{"k":50,"x":2.9,"y":72.9,"p":"H"},{"k":50,"x":2.925,"y":71.9,"p":"H"},{"k":50,"x":2.95,"y":70.95,"p":"H"},{"k":50,"x":2.975,"y":69.9,"p":"H"},{"k":50,"x":3,"y":68.85,"p":"H"},{"k":50,"x":3.025,"y":67.75,"p":"H"},{"k":50,"x":3.05,"y":66.6,"p":"H"},{"k":50,"x":3.075,"y":65.4,"p":"H"},{"k":50,"x":3.1,"y":64.2,"p":"H"},{"k":50,"x":3.125,"y":63,"p":"H"},{"k":50,"x":3.15,"y":61.7,"p":"H"},{"k":50,"x":3.175,"y":60.4,"p":"H"},{"k":50,"x":3.2,"y":59,"p":"H"},{"k":50,"x":3.225,"y":57.6,"p":"H"},{"k":50,"x":3.25,"y":56.2,"p":"H"},{"k":50,"x":3.275,"y":54.75,"p":"H"},{"k":50,"x":3.3,"y":53.25,"p":"H"},{"k":50,"x":3.325,"y":51.7,"p":"H"},{"k":50,"x":3.35,"y":50.2,"p":"H"},{"k":50,"x":3.375,"y":48.6,"p":"H"},{"k":50,"x":3.4,"y":46.9,"p":"H"},{"k":50,"x":3.425,"y":45.3,"p":"H"},{"k":50,"x":3.45,"y":43.6,"p":"H"},{"k":50,"x":3.475,"y":41.8,"p":"H"},{"k":50,"x":3.5,"y":40.1,"p":"H"},{"k":50,"x":3.525,"y":38.3,"p":"H"},{"k":50,"x":3.55,"y":36.4,"p":"H"},{"k":50,"x":3.575,"y":34.6,"p":"H"},{"k":50,"x":3.6,"y":32.7,"p":"H"},{"k":50,"x":3.625,"y":30.7,"p":"H"},{"k":50,"x":3.65,"y":28.75,"p":"H"},{"k":50,"x":3.675,"y":26.75,"p":"H"},{"k":50,"x":3.7,"y":24.7,"p":"H"},{"k":50,"x":3.725,"y":22.6,"p":"H"},{"k":50,"x":3.75,"y":20.5,"p":"H"},{"k":50,"x":3.775,"y":18.4,"p":"H"},{"k":50,"x":3.8,"y":16.2,"p":"H"},{"k":50,"x":3.825,"y":14,"p":"H"},{"k":50,"x":3.85,"y":11.8,"p":"H"},{"k":50,"x":3.875,"y":9.5,"p":"H"},{"k":50,"x":3.9,"y":7.24,"p":"H"},{"k":50,"x":3.925,"y":4.9,"p":"H"},{"k":50,"x":3.95,"y":2.53,"p":"H"},{"k":50,"x":3.975,"y":0.09,"p":"H"},
{"k":50,"x":4,"y":2.29,"p":"R"},{"k":50,"x":4.025,"y":4.76,"p":"R"},{"k":50,"x":4.05,"y":7.26,"p":"R"},{"k":50,"x":4.075,"y":9.79,"p":"R"},{"k":50,"x":4.1,"y":12.35,"p":"R"},{"k":50,"x":4.125,"y":14.94,"p":"R"},{"k":50,"x":4.15,"y":17.57,"p":"R"},{"k":50,"x":4.175,"y":20.22,"p":"R"},{"k":50,"x":4.2,"y":22.9,"p":"R"},{"k":50,"x":4.225,"y":25.6,"p":"R"},{"k":50,"x":4.25,"y":28.4,"p":"R"},{"k":50,"x":4.275,"y":31.2,"p":"R"},{"k":50,"x":4.3,"y":34,"p":"R"},{"k":50,"x":4.325,"y":36.85,"p":"R"},{"k":50,"x":4.35,"y":39.7,"p":"R"},{"k":50,"x":4.375,"y":42.65,"p":"R"},{"k":50,"x":4.4,"y":45.6,"p":"R"},{"k":50,"x":4.425,"y":48.6,"p":"R"},{"k":50,"x":4.45,"y":51.6,"p":"R"},{"k":50,"x":4.475,"y":54.6,"p":"R"},{"k":50,"x":4.5,"y":57.7,"p":"R"},{"k":50,"x":4.525,"y":60.8,"p":"R"},{"k":50,"x":4.55,"y":63.96,"p":"R"},{"k":50,"x":4.575,"y":67.1,"p":"R"},{"k":50,"x":4.6,"y":70.3,"p":"R"},{"k":50,"x":4.625,"y":73.6,"p":"R"},{"k":50,"x":4.65,"y":76.8,"p":"R"},{"k":50,"x":4.675,"y":80.1,"p":"R"},{"k":50,"x":4.7,"y":83.5,"p":"R"},{"k":50,"x":4.725,"y":86.8,"p":"R"},{"k":50,"x":4.75,"y":90.2,"p":"R"},{"k":50,"x":4.775,"y":93.65,"p":"R"},{"k":50,"x":4.8,"y":97.1,"p":"R"},{"k":50,"x":4.825,"y":100.6,"p":"R"},{"k":50,"x":4.85,"y":104.1,"p":"R"},{"k":50,"x":4.875,"y":107.7,"p":"R"},{"k":50,"x":4.9,"y":111.3,"p":"R"},{"k":50,"x":4.925,"y":114.9,"p":"R"},{"k":50,"x":4.95,"y":118.5,"p":"R"},{"k":50,"x":4.975,"y":122.2,"p":"R"},{"k":50,"x":5,"y":125.9,"p":"R"},
{"k":20,"x":0.025,"y":11507000,"p":"L"},{"k":20,"x":0.05,"y":1438400,"p":"L"},{"k":20,"x":0.075,"y":426190,"p":"L"},{"k":20,"x":0.1,"y":179796,"p":"L"},{"k":20,"x":0.125,"y":92053,"p":"L"},{"k":20,"x":0.15,"y":53268,"p":"L"},{"k":20,"x":0.175,"y":33543,"p":"L"},{"k":20,"x":0.2,"y":22467,"p":"L"},{"k":20,"x":0.225,"y":15776,"p":"L"},{"k":20,"x":0.25,"y":11497,"p":"L"},{"k":20,"x":0.275,"y":8635,"p":"L"},{"k":20,"x":0.3,"y":6648,"p":"L"},{"k":20,"x":0.325,"y":5226,"p":"L"},{"k":20,"x":0.35,"y":4181,"p":"L"},{"k":20,"x":0.375,"y":3396,"p":"L"},{"k":20,"x":0.4,"y":2795,"p":"L"},{"k":20,"x":0.425,"y":2327,"p":"L"},{"k":20,"x":0.45,"y":1957,"p":"L"},{"k":20,"x":0.475,"y":1661,"p":"L"},{"k":20,"x":0.5,"y":1421,"p":"L"},{"k":20,"x":0.525,"y":1224,"p":"L"},{"k":20,"x":0.55,"y":1061.5,"p":"L"},{"k":20,"x":0.575,"y":925.9,"p":"L"},{"k":20,"x":0.6,"y":811.8,"p":"L"},{"k":20,"x":0.625,"y":715.2,"p":"L"},{"k":20,"x":0.65,"y":632.7,"p":"L"},{"k":20,"x":0.675,"y":562,"p":"L"},{"k":20,"x":0.7,"y":500.9,"p":"L"},{"k":20,"x":0.725,"y":447.85,"p":"L"},{"k":20,"x":0.75,"y":401.6,"p":"L"},{"k":20,"x":0.775,"y":361.1,"p":"L"},{"k":20,"x":0.8,"y":325.4,"p":"L"},{"k":20,"x":0.825,"y":293.8,"p":"L"},{"k":20,"x":0.85,"y":265.8,"p":"L"},{"k":20,"x":0.875,"y":240.85,"p":"L"},{"k":20,"x":0.9,"y":218.5,"p":"L"},{"k":20,"x":0.925,"y":198.5,"p":"L"},{"k":20,"x":0.95,"y":180.5,"p":"L"},{"k":20,"x":0.975,"y":164.3,"p":"L"},{"k":20,"x":1,"y":149.6,"p":"L"},{"k":20,"x":1.025,"y":136.3,"p":"L"},{"k":20,"x":1.05,"y":124.1,"p":"L"},{"k":20,"x":1.075,"y":113.1,"p":"L"},{"k":20,"x":1.1,"y":103,"p":"L"},{"k":20,"x":1.125,"y":93.7,"p":"L"},{"k":20,"x":1.15,"y":85.2,"p":"L"},{"k":20,"x":1.175,"y":77.4,"p":"L"},{"k":20,"x":1.2,"y":70.25,"p":"L"},{"k":20,"x":1.225,"y":63.6,"p":"L"},{"k":20,"x":1.25,"y":57.5,"p":"L"},{"k":20,"x":1.275,"y":51.8,"p":"L"},{"k":20,"x":1.3,"y":46.5,"p":"L"},{"k":20,"x":1.325,"y":41.6,"p":"L"},{"k":20,"x":1.35,"y":37.1,"p":"L"},{"k":20,"x":1.375,"y":32.9,"p":"L"},{"k":20,"x":1.4,"y":28.9,"p":"L"},{"k":20,"x":1.425,"y":25.2,"p":"L"},{"k":20,"x":1.45,"y":21.8,"p":"L"},{"k":20,"x":1.475,"y":18.6,"p":"L"},{"k":20,"x":1.5,"y":15.57,"p":"L"},{"k":20,"x":1.525,"y":12.75,"p":"L"},{"k":20,"x":1.55,"y":10.1,"p":"L"},{"k":20,"x":1.575,"y":7.62,"p":"L"},{"k":20,"x":1.6,"y":5.29,"p":"L"},{"k":20,"x":1.625,"y":3.1,"p":"L"},{"k":20,"x":1.65,"y":1.045,"p":"L"},
{"k":20,"x":1.675,"y":0.89,"p":"H"},{"k":20,"x":1.7,"y":2.71,"p":"H"},{"k":20,"x":1.725,"y":4.42,"p":"H"},{"k":20,"x":1.75,"y":6.03,"p":"H"},{"k":20,"x":1.775,"y":7.55,"p":"H"},{"k":20,"x":1.8,"y":8.98,"p":"H"},{"k":20,"x":1.825,"y":10.32,"p":"H"},{"k":20,"x":1.85,"y":11.58,"p":"H"},{"k":20,"x":1.875,"y":12.77,"p":"H"},{"k":20,"x":1.9,"y":13.89,"p":"H"},{"k":20,"x":1.925,"y":14.94,"p":"H"},{"k":20,"x":1.95,"y":15.93,"p":"H"},{"k":20,"x":1.975,"y":16.86,"p":"H"},{"k":20,"x":2,"y":17.73,"p":"H"},{"k":20,"x":2.025,"y":18.55,"p":"H"},{"k":20,"x":2.05,"y":19.31,"p":"H"},{"k":20,"x":2.075,"y":20.02,"p":"H"},{"k":20,"x":2.1,"y":20.7,"p":"H"},{"k":20,"x":2.125,"y":21.31,"p":"H"},{"k":20,"x":2.15,"y":21.89,"p":"H"},{"k":20,"x":2.175,"y":22.43,"p":"H"},{"k":20,"x":2.2,"y":22.92,"p":"H"},{"k":20,"x":2.225,"y":23.38,"p":"H"},{"k":20,"x":2.25,"y":23.8,"p":"H"},{"k":20,"x":2.275,"y":24.18,"p":"H"},{"k":20,"x":2.3,"y":24.53,"p":"H"},{"k":20,"x":2.325,"y":24.84,"p":"H"},{"k":20,"x":2.35,"y":25.13,"p":"H"},{"k":20,"x":2.375,"y":25.38,"p":"H"},{"k":20,"x":2.4,"y":25.6,"p":"H"},{"k":20,"x":2.425,"y":25.79,"p":"H"},{"k":20,"x":2.45,"y":25.955,"p":"H"},{"k":20,"x":2.475,"y":26.09,"p":"H"},{"k":20,"x":2.5,"y":26.2,"p":"H"},{"k":20,"x":2.525,"y":26.28,"p":"H"},{"k":20,"x":2.55,"y":26.34,"p":"H"},{"k":20,"x":2.575,"y":26.37,"p":"H"},{"k":20,"x":2.6,"y":26.38,"p":"H"},{"k":20,"x":2.625,"y":26.36,"p":"H"},{"k":20,"x":2.65,"y":26.32,"p":"H"},{"k":20,"x":2.675,"y":26.26,"p":"H"},{"k":20,"x":2.7,"y":26.17,"p":"H"},{"k":20,"x":2.725,"y":26.06,"p":"H"},{"k":20,"x":2.75,"y":25.94,"p":"H"},{"k":20,"x":2.775,"y":25.79,"p":"H"},{"k":20,"x":2.8,"y":25.62,"p":"H"},{"k":20,"x":2.825,"y":25.43,"p":"H"},{"k":20,"x":2.85,"y":25.21,"p":"H"},{"k":20,"x":2.875,"y":24.98,"p":"H"},{"k":20,"x":2.9,"y":24.73,"p":"H"},{"k":20,"x":2.925,"y":24.47,"p":"H"},{"k":20,"x":2.95,"y":24.18,"p":"H"},{"k":20,"x":2.975,"y":23.87,"p":"H"},{"k":20,"x":3,"y":23.55,"p":"H"},{"k":20,"x":3.025,"y":23.2,"p":"H"},{"k":20,"x":3.05,"y":22.84,"p":"H"},{"k":20,"x":3.075,"y":22.47,"p":"H"},{"k":20,"x":3.1,"y":22.07,"p":"H"},{"k":20,"x":3.125,"y":21.66,"p":"H"},{"k":20,"x":3.15,"y":21.23,"p":"H"},{"k":20,"x":3.175,"y":20.78,"p":"H"},{"k":20,"x":3.2,"y":20.32,"p":"H"},{"k":20,"x":3.225,"y":19.84,"p":"H"},{"k":20,"x":3.25,"y":19.34,"p":"H"},{"k":20,"x":3.275,"y":18.83,"p":"H"},{"k":20,"x":3.3,"y":18.3,"p":"H"},{"k":20,"x":3.325,"y":17.76,"p":"H"},{"k":20,"x":3.35,"y":17.2,"p":"H"},{"k":20,"x":3.375,"y":16.62,"p":"H"},{"k":20,"x":3.4,"y":16.03,"p":"H"},{"k":20,"x":3.425,"y":15.43,"p":"H"},{"k":20,"x":3.45,"y":14.8,"p":"H"},{"k":20,"x":3.475,"y":14.165,"p":"H"},{"k":20,"x":3.5,"y":13.51,"p":"H"},{"k":20,"x":3.525,"y":12.85,"p":"H"},{"k":20,"x":3.55,"y":12.16,"p":"H"},{"k":20,"x":3.575,"y":11.465,"p":"H"},{"k":20,"x":3.6,"y":10.75,"p":"H"},{"k":20,"x":3.625,"y":10.03,"p":"H"},{"k":20,"x":3.65,"y":9.28,"p":"H"},{"k":20,"x":3.675,"y":8.53,"p":"H"},{"k":20,"x":3.7,"y":7.76,"p":"H"},{"k":20,"x":3.725,"y":6.97,"p":"H"},{"k":20,"x":3.75,"y":6.17,"p":"H"},{"k":20,"x":3.775,"y":5.36,"p":"H"},{"k":20,"x":3.8,"y":4.53,"p":"H"},{"k":20,"x":3.825,"y":3.69,"p":"H"},{"k":20,"x":3.85,"y":2.83,"p":"H"},{"k":20,"x":3.875,"y":1.96,"p":"H"},{"k":20,"x":3.9,"y":1.075,"p":"H"},{"k":20,"x":3.925,"y":0.14,"p":"H"},
{"k":20,"x":3.95,"y":0.74,"p":"R"},{"k":20,"x":3.975,"y":1.66,"p":"R"},{"k":20,"x":4,"y":2.6,"p":"R"},{"k":20,"x":4.025,"y":3.56,"p":"R"},{"k":20,"x":4.05,"y":4.53,"p":"R"},{"k":20,"x":4.075,"y":5.51,"p":"R"},{"k":20,"x":4.1,"y":6.5,"p":"R"},{"k":20,"x":4.125,"y":7.51,"p":"R"},{"k":20,"x":4.15,"y":8.53,"p":"R"},{"k":20,"x":4.175,"y":9.57,"p":"R"},{"k":20,"x":4.2,"y":10.62,"p":"R"},{"k":20,"x":4.225,"y":11.68,"p":"R"},{"k":20,"x":4.25,"y":12.76,"p":"R"},{"k":20,"x":4.275,"y":13.85,"p":"R"},{"k":20,"x":4.3,"y":14.96,"p":"R"},{"k":20,"x":4.325,"y":16.07,"p":"R"},{"k":20,"x":4.35,"y":17.2,"p":"R"},{"k":20,"x":4.375,"y":18.35,"p":"R"},{"k":20,"x":4.4,"y":19.51,"p":"R"},{"k":20,"x":4.425,"y":20.68,"p":"R"},{"k":20,"x":4.45,"y":21.86,"p":"R"},{"k":20,"x":4.475,"y":23.06,"p":"R"},{"k":20,"x":4.5,"y":24.27,"p":"R"},{"k":20,"x":4.525,"y":25.49,"p":"R"},{"k":20,"x":4.55,"y":26.73,"p":"R"},{"k":20,"x":4.575,"y":27.98,"p":"R"},{"k":20,"x":4.6,"y":29.24,"p":"R"},{"k":20,"x":4.625,"y":30.52,"p":"R"},{"k":20,"x":4.65,"y":31.81,"p":"R"},{"k":20,"x":4.675,"y":33.11,"p":"R"},{"k":20,"x":4.7,"y":34.43,"p":"R"},{"k":20,"x":4.725,"y":35.75,"p":"R"},{"k":20,"x":4.75,"y":37.1,"p":"R"},{"k":20,"x":4.775,"y":38.45,"p":"R"},{"k":20,"x":4.8,"y":39.82,"p":"R"},{"k":20,"x":4.825,"y":41.2,"p":"R"},{"k":20,"x":4.85,"y":42.6,"p":"R"},{"k":20,"x":4.875,"y":44,"p":"R"},{"k":20,"x":4.9,"y":45.42,"p":"R"},{"k":20,"x":4.925,"y":46.86,"p":"R"},{"k":20,"x":4.95,"y":48.3,"p":"R"},{"k":20,"x":4.975,"y":49.76,"p":"R"},{"k":20,"x":5,"y":51.23,"p":"R"},
{"k":5,"x":0.025,"y":11539000,"p":"L"},{"k":5,"x":0.05,"y":1442400,"p":"L"},{"k":5,"x":0.075,"y":427380,"p":"L"},{"k":5,"x":0.1,"y":180300,"p":"L"},{"k":5,"x":0.125,"y":92313,"p":"L"},{"k":5,"x":0.15,"y":53421,"p":"L"},{"k":5,"x":0.175,"y":33640,"p":"L"},{"k":5,"x":0.2,"y":22536,"p":"L"},{"k":5,"x":0.225,"y":15827,"p":"L"},{"k":5,"x":0.25,"y":11537,"p":"L"},{"k":5,"x":0.275,"y":8667,"p":"L"},{"k":5,"x":0.3,"y":6675,"p":"L"},{"k":5,"x":0.325,"y":5249,"p":"L"},{"k":5,"x":0.35,"y":4202,"p":"L"},{"k":5,"x":0.375,"y":3416,"p":"L"},{"k":5,"x":0.4,"y":2813.6,"p":"L"},{"k":5,"x":0.425,"y":2344.9,"p":"L"},{"k":5,"x":0.45,"y":1974.6,"p":"L"},{"k":5,"x":0.475,"y":1678.1,"p":"L"},{"k":5,"x":0.5,"y":1438,"p":"L"},{"k":5,"x":0.525,"y":1241.4,"p":"L"},{"k":5,"x":0.55,"y":1079,"p":"L"},{"k":5,"x":0.575,"y":943.5,"p":"L"},{"k":5,"x":0.6,"y":829.6,"p":"L"},{"k":5,"x":0.625,"y":733.2,"p":"L"},{"k":5,"x":0.65,"y":651.1,"p":"L"},{"k":5,"x":0.675,"y":580.6,"p":"L"},{"k":5,"x":0.7,"y":519.9,"p":"L"},{"k":5,"x":0.725,"y":467.2,"p":"L"},{"k":5,"x":0.75,"y":421.3,"p":"L"},{"k":5,"x":0.775,"y":381.1,"p":"L"},{"k":5,"x":0.8,"y":345.7,"p":"L"},{"k":5,"x":0.825,"y":314.6,"p":"L"},{"k":5,"x":0.85,"y":286.9,"p":"L"},{"k":5,"x":0.875,"y":262.3,"p":"L"},{"k":5,"x":0.9,"y":240.3,"p":"L"},{"k":5,"x":0.925,"y":220.7,"p":"L"},{"k":5,"x":0.95,"y":203.1,"p":"L"},{"k":5,"x":0.975,"y":187.1,"p":"L"},{"k":5,"x":1,"y":172.8,"p":"L"},{"k":5,"x":1.025,"y":159.8,"p":"L"},{"k":5,"x":1.05,"y":148,"p":"L"},{"k":5,"x":1.075,"y":137.3,"p":"L"},{"k":5,"x":1.1,"y":127.5,"p":"L"},{"k":5,"x":1.125,"y":118.5,"p":"L"},{"k":5,"x":1.15,"y":110.4,"p":"L"},{"k":5,"x":1.175,"y":102.8,"p":"L"},{"k":5,"x":1.2,"y":95.94,"p":"L"},{"k":5,"x":1.225,"y":89.58,"p":"L"},{"k":5,"x":1.25,"y":83.72,"p":"L"},{"k":5,"x":1.275,"y":78.3,"p":"L"},{"k":5,"x":1.3,"y":73.3,"p":"L"},{"k":5,"x":1.325,"y":68.65,"p":"L"},{"k":5,"x":1.35,"y":64.34,"p":"L"},{"k":5,"x":1.375,"y":60.34,"p":"L"},{"k":5,"x":1.4,"y":56.61,"p":"L"},{"k":5,"x":1.425,"y":53.14,"p":"L"},{"k":5,"x":1.45,"y":49.9,"p":"L"},{"k":5,"x":1.475,"y":46.87,"p":"L"},{"k":5,"x":1.5,"y":44.05,"p":"L"},{"k":5,"x":1.525,"y":41.4,"p":"L"},{"k":5,"x":1.55,"y":38.93,"p":"L"},{"k":5,"x":1.575,"y":36.6,"p":"L"},{"k":5,"x":1.6,"y":34.42,"p":"L"},{"k":5,"x":1.625,"y":32.37,"p":"L"},{"k":5,"x":1.65,"y":30.45,"p":"L"},{"k":5,"x":1.675,"y":28.63,"p":"L"},{"k":5,"x":1.7,"y":26.93,"p":"L"},{"k":5,"x":1.725,"y":25.32,"p":"L"},{"k":5,"x":1.75,"y":23.8,"p":"L"},{"k":5,"x":1.775,"y":22.37,"p":"L"},{"k":5,"x":1.8,"y":21.02,"p":"L"},{"k":5,"x":1.825,"y":19.74,"p":"L"},{"k":5,"x":1.85,"y":18.54,"p":"L"},{"k":5,"x":1.875,"y":17.39,"p":"L"},{"k":5,"x":1.9,"y":16.32,"p":"L"},{"k":5,"x":1.925,"y":15.29,"p":"L"},{"k":5,"x":1.95,"y":14.33,"p":"L"},{"k":5,"x":1.975,"y":13.4,"p":"L"},{"k":5,"x":2,"y":12.54,"p":"L"},{"k":5,"x":2.025,"y":11.71,"p":"L"},{"k":5,"x":2.05,"y":10.94,"p":"L"},{"k":5,"x":2.075,"y":10.19,"p":"L"},{"k":5,"x":2.1,"y":9.5,"p":"L"},{"k":5,"x":2.125,"y":8.83,"p":"L"},{"k":5,"x":2.15,"y":8.2,"p":"L"},{"k":5,"x":2.175,"y":7.6,"p":"L"},{"k":5,"x":2.2,"y":7.03,"p":"L"},{"k":5,"x":2.225,"y":6.5,"p":"L"},{"k":5,"x":2.25,"y":5.99,"p":"L"},{"k":5,"x":2.275,"y":5.5,"p":"L"},{"k":5,"x":2.3,"y":5.05,"p":"L"},{"k":5,"x":2.325,"y":4.61,"p":"L"},{"k":5,"x":2.35,"y":4.2,"p":"L"},{"k":5,"x":2.375,"y":3.81,"p":"L"},{"k":5,"x":2.4,"y":3.44,"p":"L"},{"k":5,"x":2.425,"y":3.09,"p":"L"},{"k":5,"x":2.45,"y":2.77,"p":"L"},{"k":5,"x":2.475,"y":2.45,"p":"L"},{"k":5,"x":2.5,"y":2.165,"p":"L"},{"k":5,"x":2.525,"y":1.89,"p":"L"},{"k":5,"x":2.55,"y":1.63,"p":"L"},{"k":5,"x":2.575,"y":1.39,"p":"L"},{"k":5,"x":2.6,"y":1.16,"p":"L"},{"k":5,"x":2.625,"y":0.945,"p":"L"},{"k":5,"x":2.65,"y":0.745,"p":"L"},{"k":5,"x":2.675,"y":0.558,"p":"L"},{"k":5,"x":2.7,"y":0.385,"p":"L"},{"k":5,"x":2.725,"y":0.225,"p":"L"},{"k":5,"x":2.75,"y":0.076,"p":"L"},
{"k":5,"x":2.775,"y":0.061,"p":"H"},{"k":5,"x":2.8,"y":0.187,"p":"H"},{"k":5,"x":2.825,"y":0.301,"p":"H"},{"k":5,"x":2.85,"y":0.405,"p":"H"},{"k":5,"x":2.875,"y":0.499,"p":"H"},{"k":5,"x":2.9,"y":0.582,"p":"H"},{"k":5,"x":2.925,"y":0.656,"p":"H"},{"k":5,"x":2.95,"y":0.721,"p":"H"},{"k":5,"x":2.975,"y":0.775,"p":"H"},{"k":5,"x":3,"y":0.822,"p":"H"},{"k":5,"x":3.025,"y":0.859,"p":"H"},{"k":5,"x":3.05,"y":0.889,"p":"H"},{"k":5,"x":3.075,"y":0.91,"p":"H"},{"k":5,"x":3.1,"y":0.923,"p":"H"},{"k":5,"x":3.125,"y":0.928,"p":"H"},{"k":5,"x":3.15,"y":0.926,"p":"H"},{"k":5,"x":3.175,"y":0.915,"p":"H"},{"k":5,"x":3.2,"y":0.898,"p":"H"},{"k":5,"x":3.225,"y":0.873,"p":"H"},{"k":5,"x":3.25,"y":0.842,"p":"H"},{"k":5,"x":3.275,"y":0.803,"p":"H"},{"k":5,"x":3.3,"y":0.758,"p":"H"},{"k":5,"x":3.325,"y":0.706,"p":"H"},{"k":5,"x":3.35,"y":0.648,"p":"H"},{"k":5,"x":3.375,"y":0.583,"p":"H"},{"k":5,"x":3.4,"y":0.513,"p":"H"},{"k":5,"x":3.425,"y":0.435,"p":"H"},{"k":5,"x":3.45,"y":0.353,"p":"H"},{"k":5,"x":3.475,"y":0.264,"p":"H"},{"k":5,"x":3.5,"y":0.17,"p":"H"},{"k":5,"x":3.525,"y":0.07,"p":"H"},
{"k":5,"x":3.55,"y":0.036,"p":"R"},{"k":5,"x":3.575,"y":0.148,"p":"R"},{"k":5,"x":3.6,"y":0.264,"p":"R"},{"k":5,"x":3.625,"y":0.387,"p":"R"},{"k":5,"x":3.65,"y":0.514,"p":"R"},{"k":5,"x":3.675,"y":0.647,"p":"R"},{"k":5,"x":3.7,"y":0.785,"p":"R"},{"k":5,"x":3.725,"y":0.927,"p":"R"},{"k":5,"x":3.75,"y":1.075,"p":"R"},{"k":5,"x":3.775,"y":1.229,"p":"R"},{"k":5,"x":3.8,"y":1.386,"p":"R"},{"k":5,"x":3.825,"y":1.549,"p":"R"},{"k":5,"x":3.85,"y":1.715,"p":"R"},{"k":5,"x":3.875,"y":1.888,"p":"R"},{"k":5,"x":3.9,"y":2.064,"p":"R"},{"k":5,"x":3.925,"y":2.246,"p":"R"},{"k":5,"x":3.95,"y":2.432,"p":"R"},{"k":5,"x":3.975,"y":2.623,"p":"R"},{"k":5,"x":4,"y":2.817,"p":"R"},{"k":5,"x":4.025,"y":3.017,"p":"R"},{"k":5,"x":4.05,"y":3.22,"p":"R"},{"k":5,"x":4.075,"y":3.428,"p":"R"},{"k":5,"x":4.1,"y":3.641,"p":"R"},{"k":5,"x":4.125,"y":3.858,"p":"R"},{"k":5,"x":4.15,"y":4.079,"p":"R"},{"k":5,"x":4.175,"y":4.305,"p":"R"},{"k":5,"x":4.2,"y":4.534,"p":"R"},{"k":5,"x":4.225,"y":4.768,"p":"R"},{"k":5,"x":4.25,"y":5.005,"p":"R"},{"k":5,"x":4.275,"y":5.247,"p":"R"},{"k":5,"x":4.3,"y":5.493,"p":"R"},{"k":5,"x":4.325,"y":5.743,"p":"R"},{"k":5,"x":4.35,"y":5.997,"p":"R"},{"k":5,"x":4.375,"y":6.255,"p":"R"},{"k":5,"x":4.4,"y":6.517,"p":"R"},{"k":5,"x":4.425,"y":6.783,"p":"R"},{"k":5,"x":4.45,"y":7.052,"p":"R"},{"k":5,"x":4.475,"y":7.326,"p":"R"},{"k":5,"x":4.5,"y":7.604,"p":"R"},{"k":5,"x":4.525,"y":7.885,"p":"R"},{"k":5,"x":4.55,"y":8.17,"p":"R"},{"k":5,"x":4.575,"y":8.46,"p":"R"},{"k":5,"x":4.6,"y":8.752,"p":"R"},{"k":5,"x":4.625,"y":9.05,"p":"R"},{"k":5,"x":4.65,"y":9.349,"p":"R"},{"k":5,"x":4.675,"y":9.654,"p":"R"},{"k":5,"x":4.7,"y":9.962,"p":"R"},{"k":5,"x":4.725,"y":10.27,"p":"R"},{"k":5,"x":4.75,"y":10.59,"p":"R"},{"k":5,"x":4.775,"y":10.91,"p":"R"},{"k":5,"x":4.8,"y":11.23,"p":"R"},{"k":5,"x":4.825,"y":11.56,"p":"R"},{"k":5,"x":4.85,"y":11.89,"p":"R"},{"k":5,"x":4.875,"y":12.22,"p":"R"},{"k":5,"x":4.9,"y":12.56,"p":"R"},{"k":5,"x":4.925,"y":12.9,"p":"R"},{"k":5,"x":4.95,"y":13.24,"p":"R"},{"k":5,"x":4.975,"y":13.59,"p":"R"},{"k":5,"x":5,"y":13.94,"p":"R"}
]},
"encoding":{
"x":{"field":"x","type":"quantitative","scale":{"domain":[0,5],"nice":false,"zero":false},
"axis":{"values":[0,1,2,3,4,5],"format":"d","title":"x  (meters)","grid":true,"gridColor":"#777","gridDash":[1,4],"gridWidth":1,"domain":false,"ticks":false,"labelFontSize":21,"labelColor":"#111","labelPadding":17,"labelFlush":false,"labelOverlap":false,"titleFontSize":27,"titleFontWeight":"normal","titleColor":"#111","titleX":410,"titleY":67,"titleBaseline":"alphabetic"}},
"y":{"field":"y","type":"quantitative","scale":{"type":"log","domain":[0.01,100000000],"nice":false},
"axis":{"values":[0.01,1,100,10000,1000000,100000000],"labelExpr":"datum.value>5e7?'10⁸':datum.value>5e5?'10⁶':datum.value>5e3?'10⁴':datum.value>50?'10²':datum.value>0.5?'10⁰':'10⁻²'","title":"Potential Energy (J)","grid":true,"gridColor":"#777","gridDash":[1,4],"gridWidth":1,"domain":false,"ticks":false,"labelFontSize":28,"labelColor":"#111","labelPadding":17,"labelFlush":false,"labelOverlap":false,"titleFontSize":31,"titleFontWeight":"normal","titleColor":"#111","titleX":-74,"titleY":292,"titleAngle":-90,"titleBaseline":"alphabetic","titleAlign":"center"}}
},
"resolve":{"scale":{"shape":"independent"},"legend":{"shape":"independent"}},
"layer":[
{"mark":{"type":"line","stroke":"#b8b8b8","strokeWidth":1,"clip":true},"encoding":{"detail":{"field":"k","type":"nominal"}}},
{"transform":[{"filter":"datum.p!='H'"}],"mark":{"type":"line","stroke":"black","strokeWidth":1,"clip":true},"encoding":{"detail":[{"field":"k","type":"nominal"},{"field":"p","type":"nominal"}]}},
{"transform":[{"filter":"datum.p=='H'"}],"mark":{"type":"point","filled":false,"stroke":"#b8b8b8","strokeWidth":1,"size":64,"opacity":1,"clip":true},
"encoding":{"shape":{"field":"k","type":"nominal","scale":{"domain":[10000,1000,100,50,20,5],"range":["circle","M-1,0L1,0M0,-1L0,1M-0.7,-0.7L0.7,0.7M-0.7,0.7L0.7,-0.7","M0.35,0A0.35,0.35 0 1,1 -0.35,0A0.35,0.35 0 1,1 0.35,0","M-0.85,-0.85L0.85,0.85M-0.85,0.85L0.85,-0.85","M-0.9,-0.9L0.9,-0.9L0.9,0.9L-0.9,0.9Z","M-0.8,0L0,-1.1L0.8,0L0,1.1Z"]},"legend":null}}},
{"transform":[{"filter":"datum.p!='H'"}],"mark":{"type":"point","filled":false,"stroke":"black","strokeWidth":1,"size":64,"opacity":1,"clip":true},
"encoding":{"shape":{"field":"k","type":"nominal","scale":{"domain":[10000,1000,100,50,20,5],"range":["circle","M-1,0L1,0M0,-1L0,1M-0.7,-0.7L0.7,0.7M-0.7,0.7L0.7,-0.7","M0.35,0A0.35,0.35 0 1,1 -0.35,0A0.35,0.35 0 1,1 0.35,0","M-0.85,-0.85L0.85,0.85M-0.85,0.85L0.85,-0.85","M-0.9,-0.9L0.9,-0.9L0.9,0.9L-0.9,0.9Z","M-0.8,0L0,-1.1L0.8,0L0,1.1Z"]},"legend":null}}},
{"data":{"values":[{"k":10000},{"k":1000},{"k":100},{"k":50},{"k":20},{"k":5}]},
"mark":{"type":"point","filled":false,"stroke":"black","strokeWidth":1,"size":64,"opacity":1,"clip":true},
"encoding":{"shape":{"field":"k","type":"nominal","scale":{"domain":[10000,1000,100,50,20,5],"range":["M-5,0L5,0M1,0A1,1 0 1,1 -1,0A1,1 0 1,1 1,0","M-5,0L5,0M0,-1L0,1M-0.7,-0.7L0.7,0.7M-0.7,0.7L0.7,-0.7","M-5,0L5,0M0.35,0A0.35,0.35 0 1,1 -0.35,0A0.35,0.35 0 1,1 0.35,0","M-5,0L5,0M-0.85,-0.85L0.85,0.85M-0.85,0.85L0.85,-0.85","M-5,0L5,0M-0.9,-0.9L0.9,-0.9L0.9,0.9L-0.9,0.9Z","M-5,0L5,0M-0.8,0L0,-1.1L0.8,0L0,1.1Z"]},
"legend":{"orient":"none","legendX":602,"legendY":9,"title":null,"labelExpr":"'k = ' + datum.label + '  N/m'","symbolSize":64,"symbolOffset":14,"labelFontSize":18,"labelColor":"#111","labelOffset":14,"rowPadding":13,"padding":10,"strokeColor":"#444","fillColor":"white","symbolStrokeColor":"black","symbolStrokeWidth":1,"symbolFillColor":"transparent","symbolOpacity":1}}}},
{"data":{"values":[{"n":"1","x":2.0,"y":20000},{"n":"2","x":2.07,"y":2150},{"n":"3","x":2.245,"y":193},{"n":"4","x":2.37,"y":77},{"n":"5","x":2.59,"y":27},{"n":"6","x":3.14,"y":0.92}]},
"layer":[
{"mark":{"type":"circle","size":520,"color":"black","opacity":1}},
{"mark":{"type":"text","color":"white","fontSize":15,"fontWeight":"bold","align":"center","baseline":"middle","dy":1},"encoding":{"text":{"field":"n","type":"nominal"}}}
]}
]
}
